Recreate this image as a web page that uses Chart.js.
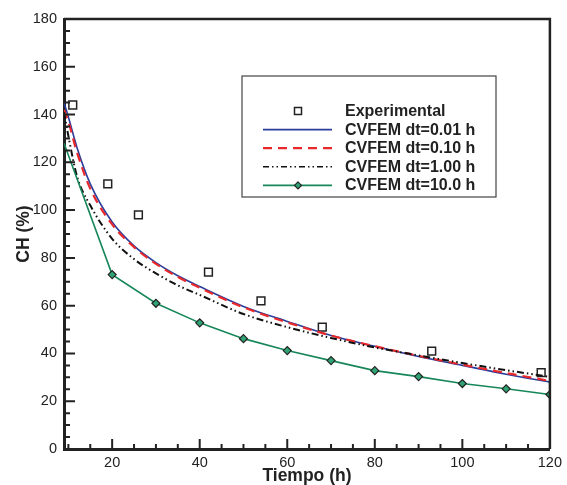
<!DOCTYPE html>
<html lang="es">
<head>
  <meta charset="UTF-8">
  <title>CH vs Tiempo</title>
  <script src="https://cdn.jsdelivr.net/npm/chart.js"></script>
  <style>
    * { margin: 0; padding: 0; box-sizing: border-box; }
    body { background: #fff; }
    .wrap { position: relative; width: 567px; height: 485px; }
  </style>
</head>
<body>
  <div class="wrap">
    <canvas id="chChart" width="567" height="485"></canvas>
  </div>

  <script>
    // Datos experimentales
    const timeExp = [11, 19, 26, 42, 54, 68, 93, 118];
    const chExp = [144, 111, 98, 74, 62, 51, 41, 32];

    // Curvas CVFEM (dt pequeños)
    const timeSim = [9, 10, 12, 15, 20, 25, 30, 35, 40, 50, 60, 70, 80, 90, 100, 110, 120];
    const chDt001 = [145, 139, 126, 111, 95, 85, 78, 72.5, 68, 59.7, 53.4, 47.5, 43, 38.7, 35, 31.3, 28];
    const chDt010 = [142, 137, 124, 109, 94, 84.5, 77.5, 72, 67.5, 59.3, 53, 47.5, 43, 39, 35.3, 31.8, 28.5];
    const chDt100 = [141, 131, 114, 102, 88, 79.5, 73.5, 68.5, 64.5, 56.5, 51, 46.5, 42.5, 39.2, 36, 33, 30.2];

    // CVFEM dt=10 h
    const time10 = [9, 20, 30, 40, 50, 60, 70, 80, 90, 100, 110, 120];
    const chDt10 = [128, 73, 61, 52.8, 46.2, 41.2, 37, 32.8, 30.3, 27.4, 25.2, 22.8];

    const xTicks = [20, 40, 60, 80, 100, 120];

    const pts = (xs, ys) => xs.map((x, i) => ({ x: x, y: ys[i] }));
    const FONT = "'Liberation Sans', Arial, sans-serif";

    const legendItems = [
      { text: 'Experimental', kind: 'square' },
      { text: 'CVFEM dt=0.01 h', kind: 'line', color: '#2b3d9b', dash: [] },
      { text: 'CVFEM dt=0.10 h', kind: 'line', color: '#e8282b', dash: [9, 6] },
      { text: 'CVFEM dt=1.00 h', kind: 'line', color: '#111', dash: [6, 3, 1.5, 3, 1.5, 3] },
      { text: 'CVFEM dt=10.0 h', kind: 'diamond', color: '#17875a' }
    ];

    // ticks hacia dentro, marco y leyenda con borde
    const framePlugin = {
      id: 'frame',
      afterDraw(chart) {
        const ctx = chart.ctx;
        const a = chart.chartArea;
        const sx = chart.scales.x, sy = chart.scales.y;
        ctx.save();
        ctx.strokeStyle = '#222';
        ctx.lineWidth = 2;
        ctx.beginPath();
        for (let v = 10; v < 120; v += 5) {
          const px = sx.getPixelForValue(v);
          const len = v % 20 === 0 ? 10 : 5;
          ctx.moveTo(px, a.bottom);
          ctx.lineTo(px, a.bottom - len);
        }
        for (let v = 5; v < 180; v += 5) {
          const py = sy.getPixelForValue(v);
          const len = v % 20 === 0 ? 11 : 6;
          ctx.moveTo(a.left, py);
          ctx.lineTo(a.left + len, py);
        }
        ctx.stroke();

        // top / right
        ctx.lineWidth = 2.5;
        ctx.beginPath();
        ctx.moveTo(a.left, a.top);
        ctx.lineTo(a.right, a.top);
        ctx.lineTo(a.right, a.bottom);
        ctx.stroke();

        // leyenda
        const bx = 242, by = 76, bw = 254, bh = 121;
        ctx.fillStyle = '#fff';
        ctx.fillRect(bx, by, bw, bh);
        ctx.strokeStyle = '#444';
        ctx.lineWidth = 1.2;
        ctx.strokeRect(bx, by, bw, bh);

        ctx.font = 'bold 16px ' + FONT;
        ctx.textBaseline = 'middle';
        legendItems.forEach((it, i) => {
          const y = 111 + i * 18.6;
          const x0 = 263, x1 = 332;
          if (it.kind === 'square') {
            ctx.strokeStyle = '#222';
            ctx.lineWidth = 1.5;
            ctx.strokeRect(294.5, y - 3.5, 7, 7);
          } else {
            ctx.strokeStyle = it.color;
            ctx.lineWidth = it.kind === 'line' && it.dash.length === 2 ? 2.2 : 1.6;
            ctx.setLineDash(it.dash || []);
            ctx.beginPath();
            ctx.moveTo(x0, y);
            ctx.lineTo(x1, y);
            ctx.stroke();
            ctx.setLineDash([]);
            if (it.kind === 'diamond') {
              ctx.fillStyle = '#2fa373';
              ctx.strokeStyle = '#222';
              ctx.lineWidth = 1.2;
              ctx.beginPath();
              ctx.moveTo(298, y - 3.5);
              ctx.lineTo(301.5, y);
              ctx.lineTo(298, y + 3.5);
              ctx.lineTo(294.5, y);
              ctx.closePath();
              ctx.fill();
              ctx.stroke();
            }
          }
          ctx.fillStyle = '#222';
          ctx.textAlign = 'left';
          ctx.fillText(it.text, 345, y + 0.5);
        });
        ctx.restore();
      }
    };

    new Chart(document.getElementById('chChart'), {
      type: 'scatter',
      data: {
        datasets: [
          {
            label: 'CVFEM dt=10.0 h',
            data: pts(time10, chDt10),
            showLine: true,
            borderColor: '#17875a',
            borderWidth: 1.6,
            tension: 0,
            pointStyle: 'rectRot',
            pointRadius: time10.map((t, i) => i === 0 ? 0 : 4),
            pointBackgroundColor: '#2fa373',
            pointBorderColor: '#222',
            pointBorderWidth: 1.2
          },
          {
            label: 'CVFEM dt=1.00 h',
            data: pts(timeSim, chDt100),
            showLine: true,
            borderColor: '#111',
            borderWidth: 2,
            borderDash: [7, 3, 1.5, 3, 1.5, 3],
            cubicInterpolationMode: 'monotone',
            pointRadius: 0
          },
          {
            label: 'CVFEM dt=0.10 h',
            data: pts(timeSim, chDt010),
            showLine: true,
            borderColor: '#e8282b',
            borderWidth: 2.2,
            borderDash: [9, 6],
            cubicInterpolationMode: 'monotone',
            pointRadius: 0
          },
          {
            label: 'CVFEM dt=0.01 h',
            data: pts(timeSim, chDt001),
            showLine: true,
            borderColor: '#2b3d9b',
            borderWidth: 1.6,
            cubicInterpolationMode: 'monotone',
            pointRadius: 0
          },
          {
            label: 'Experimental',
            data: pts(timeExp, chExp),
            showLine: false,
            pointStyle: 'rect',
            pointRadius: 5.5,
            pointBorderColor: '#222',
            pointBorderWidth: 1.5,
            pointBackgroundColor: 'rgba(255,255,255,0)'
          }
        ]
      },
      options: {
        responsive: false,
        animation: false,
        layout: { padding: { left: 4, right: 17, top: 19, bottom: 0 } },
        plugins: {
          legend: { display: false },
          tooltip: { enabled: false }
        },
        scales: {
          x: {
            type: 'linear',
            min: 9,
            max: 120,
            afterBuildTicks: s => { s.ticks = xTicks.map(v => ({ value: v })); },
            afterFit: s => { s.height = 36; },
            grid: { display: false, drawTicks: false },
            border: { display: true, color: '#222', width: 3 },
            ticks: { padding: 5, color: '#222', font: { family: FONT, size: 14.5 } },
            title: {
              display: true,
              text: 'Tiempo (h)',
              color: '#222',
              padding: 0,
              font: { family: FONT, size: 17.5, weight: 'bold', lineHeight: 1 }
            }
          },
          y: {
            min: 0,
            max: 180,
            ticks: { stepSize: 20, padding: 7, color: '#222', font: { family: FONT, size: 14.5 } },
            afterFit: s => { s.width = 60; },
            grid: { display: false, drawTicks: false },
            border: { display: true, color: '#222', width: 3 },
            title: {
              display: true,
              text: 'CH (%)',
              color: '#222',
              padding: { top: 11, bottom: 0 },
              font: { family: FONT, size: 17.5, weight: 'bold', lineHeight: 1 }
            }
          }
        }
      },
      plugins: [framePlugin]
    });
  </script>
</body>
</html>
